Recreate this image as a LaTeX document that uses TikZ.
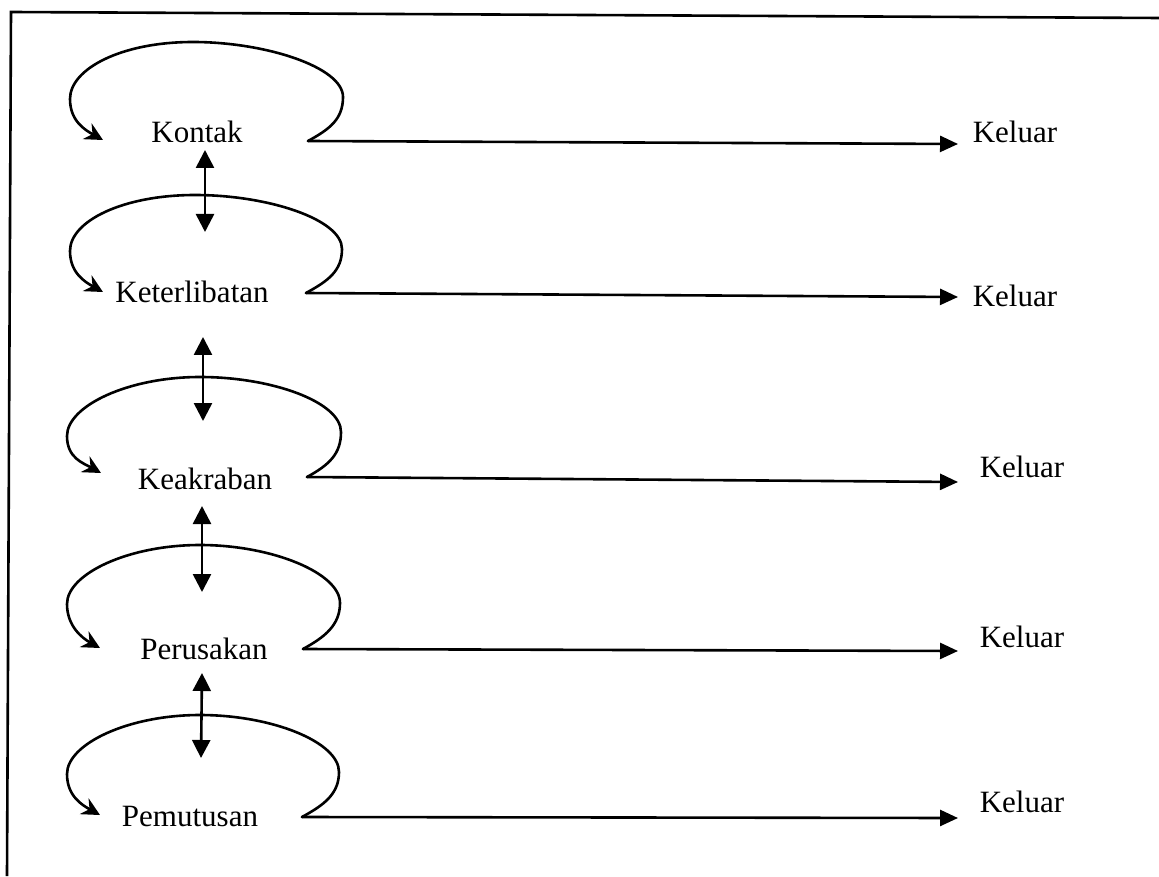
\documentclass[tikz,border=0pt]{standalone}
\usepackage{fontspec}
\setmainfont{Liberation Serif}
\usetikzlibrary{arrows.meta}
\begin{document}
\begin{tikzpicture}[x=0.5pt,y=-0.5pt,
  lbl/.style={inner sep=0pt,font=\fontsize{15.5}{18}\selectfont},
  stroke/.style={line width=1.3pt,line cap=round,line join=round},
  outarrow/.style={stroke,-{Triangle[length=9pt,width=8pt]}},
  dblarrow/.style={stroke,{Triangle[length=9pt,width=9pt]}-{Triangle[length=9pt,width=9pt]}},
  selfloop/.style={stroke,-{Stealth[length=9pt,width=9pt,inset=3pt]}}]
\useasboundingbox (0,0) rectangle (1159,876);
% frame (top and left edges only)
\draw[line width=1.3pt] (7,876) -- (11,12) -- (1159,18);
% stage labels
\node[lbl] (n1) at (197,132) {Kontak};
\node[lbl] (n2) at (192,292) {Keterlibatan};
\node[lbl] (n3) at (205,479) {Keakraban};
\node[lbl] (n4) at (204,649) {Perusakan};
\node[lbl] (n5) at (190,816) {Pemutusan};
% exit labels
\node[lbl] (o1) at (1015,132) {Keluar};
\node[lbl] (o2) at (1015,296) {Keluar};
\node[lbl] (o3) at (1022,467) {Keluar};
\node[lbl] (o4) at (1022,637) {Keluar};
\node[lbl] (o5) at (1022,802) {Keluar};
% loop ends and arrow ends
\coordinate (R1) at (308,141); \coordinate (L1) at (103,140); \coordinate (E1) at (958,144);
\coordinate (R2) at (306,293); \coordinate (L2) at (103,292); \coordinate (E2) at (958,297);
\coordinate (R3) at (307,477); \coordinate (L3) at (101,473); \coordinate (E3) at (958,482);
\coordinate (R4) at (303,649); \coordinate (L4) at (100,648); \coordinate (E4) at (958,651);
\coordinate (R5) at (302,817); \coordinate (L5) at (100,815); \coordinate (E5) at (958,818);
% self loops
\draw[selfloop] (R1) .. controls +(22,-12) and +(0,22) .. (343,97)
  .. controls +(0,-30) and +(72,0) .. (193,42)
  .. controls +(-72,0) and +(0,-30) .. (70,99)
  .. controls +(0,22) and +(-18,-10) .. (L1);
\draw[selfloop] (R2) .. controls +(22,-12) and +(0,22) .. (342,249)
  .. controls +(0,-30) and +(72,0) .. (195,195)
  .. controls +(-72,0) and +(0,-30) .. (70,251)
  .. controls +(0,22) and +(-18,-10) .. (L2);
\draw[selfloop] (R3) .. controls +(22,-12) and +(0,22) .. (341,432)
  .. controls +(0,-30) and +(72,0) .. (200,377)
  .. controls +(-72,0) and +(0,-30) .. (67,436)
  .. controls +(0,22) and +(-18,-10) .. (L3);
\draw[selfloop] (R4) .. controls +(22,-12) and +(0,22) .. (340,603)
  .. controls +(0,-30) and +(72,0) .. (200,545)
  .. controls +(-72,0) and +(0,-30) .. (67,604)
  .. controls +(0,22) and +(-18,-10) .. (L4);
\draw[selfloop] (R5) .. controls +(22,-12) and +(0,22) .. (339,772)
  .. controls +(0,-30) and +(72,0) .. (200,715)
  .. controls +(-72,0) and +(0,-30) .. (67,774)
  .. controls +(0,22) and +(-18,-10) .. (L5);
% exits
\draw[outarrow] (R1) -- (E1);
\draw[outarrow] (R2) -- (E2);
\draw[outarrow] (R3) -- (E3);
\draw[outarrow] (R4) -- (E4);
\draw[outarrow] (R5) -- (E5);
% transitions between stages
\coordinate (a1) at (205,150); \coordinate (b1) at (205,232);
\coordinate (a2) at (203,337); \coordinate (b2) at (203,421);
\coordinate (a3) at (202,506); \coordinate (b3) at (202,592);
\coordinate (a4) at (202,673); \coordinate (b4) at (201,758);
\draw[dblarrow] (a1) -- (b1);
\draw[dblarrow] (a2) -- (b2);
\draw[dblarrow] (a3) -- (b3);
\draw[dblarrow] (a4) -- (b4);
\end{tikzpicture}
\end{document}
